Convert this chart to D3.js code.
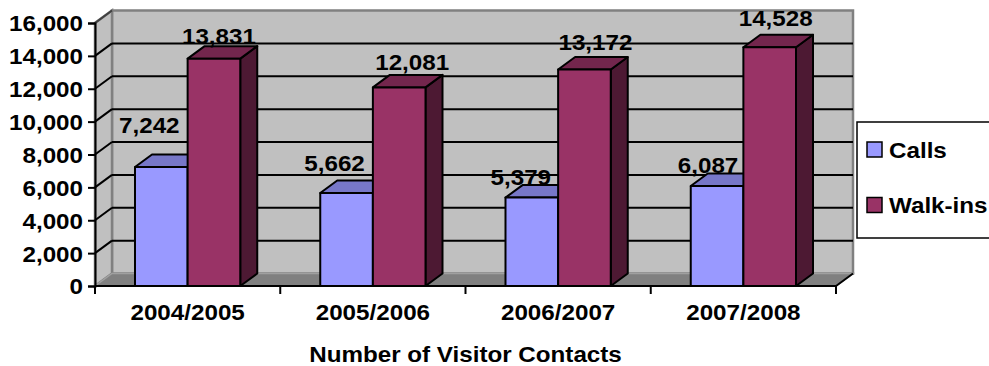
<!DOCTYPE html>
<html>
<head>
<meta charset="utf-8">
<script src="https://cdn.jsdelivr.net/npm/d3@7"></script>
<style>
  html, body { margin: 0; padding: 0; background: #fff; }
  svg text { font-family: "Liberation Sans", Arial, sans-serif; font-weight: bold; font-size: 22px; fill: #000; }
</style>
</head>
<body>
<svg id="chart" width="989" height="366"></svg>
<script>
// Visitor contacts per fiscal year
const categories = ["2004/2005", "2005/2006", "2006/2007", "2007/2008"];
const seriesNames = ["Calls", "Walk-ins"];
const calls = [7242, 5662, 5379, 6087];
const walkIns = [13831, 12081, 13172, 14528];
const yTicks = [0, 2000, 4000, 6000, 8000, 10000, 12000, 14000, 16000];
const axisTitle = "Number of Visitor Contacts";

const seriesValues = [calls, walkIns];
const colors = {
  "Calls":    { front: "#9999FF", top: "#7777C8", side: "#5C5C99" },
  "Walk-ins": { front: "#993366", top: "#73264D", side: "#4D1933" }
};

// oblique projection of the depth axis
const DX = 17, DY = -12.5;
const SX = 1.1; // horizontal stretch of the lettering

// placement of each value label relative to the top-centre of its bar (px)
const labelNudge = {
  "Calls":    { dx: [-12, -12, -11, -9], dy: [-34, -22, -13, -13] },
  "Walk-ins": { dx: [5, 13, 11, 6],      dy: [-15, -17, -19, -21] }
};

const svg = d3.select("#chart");

const x = d3.scaleBand().domain(categories).range([95, 836]).paddingInner(0).paddingOuter(0);
const xs = d3.scaleBand().domain(seriesNames).range([0, x.bandwidth()]).paddingInner(0).paddingOuter(0.76);
const y = d3.scaleLinear().domain([0, 16000]).range([286, 23]);

const x0 = x.range()[0], x1 = x.range()[1];
const yB = y(0), yT = y(16000);
const pts = a => a.map(p => p.join(",")).join(" ");

// ---- walls and floor
const walls = svg.append("g");
walls.append("polygon") // back wall
  .attr("points", pts([[x0 + DX, yT + DY], [x1 + DX, yT + DY], [x1 + DX, yB + DY], [x0 + DX, yB + DY]]))
  .attr("fill", "#C0C0C0").attr("stroke", "#808080").attr("stroke-width", 2.5);
walls.append("polygon") // side wall
  .attr("points", pts([[x0, yB], [x0, yT], [x0 + DX, yT + DY], [x0 + DX, yB + DY]]))
  .attr("fill", "#C0C0C0").attr("stroke", "#808080").attr("stroke-width", 2.5);
walls.append("polygon") // floor
  .attr("points", pts([[x0, yB], [x1, yB], [x1 + DX, yB + DY], [x0 + DX, yB + DY]]))
  .attr("fill", "#808080").attr("stroke", "#A0A0A0").attr("stroke-width", 1.5);

// ---- gridlines on back and side walls
const grid = svg.append("g").attr("stroke", "#000").attr("stroke-width", 2).attr("fill", "none");
yTicks.filter(v => v > 0 && v < 16000).forEach(v => {
  grid.append("line").attr("x1", x0 + DX).attr("x2", x1 + DX).attr("y1", y(v) + DY).attr("y2", y(v) + DY);
  grid.append("line").attr("x1", x0).attr("x2", x0 + DX).attr("y1", y(v)).attr("y2", y(v) + DY);
});
grid.append("line").attr("x1", x0).attr("x2", x0 + DX).attr("y1", yT).attr("y2", yT + DY).attr("stroke", "#404040");

// ---- bars
const bars = svg.append("g").attr("stroke", "#000").attr("stroke-width", 2).attr("stroke-linejoin", "round");
categories.forEach((c, i) => {
  seriesNames.forEach((s, k) => {
    const v = seriesValues[k][i];
    const bx = x(c) + xs(s), bw = xs.bandwidth();
    const top = y(v), bot = y(0);
    const col = colors[s];
    bars.append("polygon") // right face
      .attr("points", pts([[bx + bw, bot], [bx + bw, top], [bx + bw + DX, top + DY], [bx + bw + DX, bot + DY]]))
      .attr("fill", col.side);
    bars.append("polygon") // top face
      .attr("points", pts([[bx, top], [bx + bw, top], [bx + bw + DX, top + DY], [bx + DX, top + DY]]))
      .attr("fill", col.top);
    bars.append("rect") // front face
      .attr("x", bx).attr("y", top).attr("width", bw).attr("height", bot - top)
      .attr("fill", col.front);
  });
});

// ---- axes
const yAxis = svg.append("g").attr("transform", `translate(${x0},0)`)
  .call(d3.axisLeft(y).tickValues(yTicks).tickFormat(d3.format(",")).tickSize(7).tickPadding(5));
yAxis.select(".domain").attr("stroke", "#000").attr("stroke-width", 2);
yAxis.selectAll(".tick line").attr("stroke", "#000").attr("stroke-width", 2);
yAxis.selectAll(".tick text").attr("font-size", null).attr("font-family", null)
  .attr("x", -12 / SX).attr("dy", "0.36em").attr("transform", `scale(${SX},1)`);

// floor front edge with category separators
const xAxis = svg.append("g").attr("transform", `translate(0,${yB})`);
xAxis.append("line").attr("x1", x0).attr("x2", x1).attr("stroke", "#000").attr("stroke-width", 2);
xAxis.append("line").attr("x1", x1).attr("y1", 0).attr("x2", x1 + DX).attr("y2", DY).attr("stroke", "#000").attr("stroke-width", 2);
xAxis.selectAll("line.sep").data(categories.map(c => x(c)).concat([x1])).join("line")
  .attr("class", "sep").attr("x1", d => d).attr("x2", d => d).attr("y1", 0).attr("y2", 8)
  .attr("stroke", "#000").attr("stroke-width", 2);
xAxis.selectAll("text.cat").data(categories).join("text")
  .attr("class", "cat").attr("text-anchor", "middle")
  .attr("transform", d => `translate(${x(d) + x.bandwidth() / 2},34) scale(${SX},1)`)
  .text(d => d);

svg.append("text").attr("text-anchor", "middle")
  .attr("transform", `translate(${(x0 + x1) / 2},362) scale(${SX},1)`)
  .text(axisTitle);

// ---- value labels
const labels = svg.append("g");
categories.forEach((c, i) => {
  seriesNames.forEach((s, k) => {
    const v = seriesValues[k][i];
    const cx = x(c) + xs(s) + xs.bandwidth() / 2 + labelNudge[s].dx[i];
    labels.append("text").attr("text-anchor", "middle")
      .attr("transform", `translate(${cx},${y(v) + labelNudge[s].dy[i]}) scale(${SX},1)`)
      .text(d3.format(",")(v));
  });
});

// ---- legend
const legend = svg.append("g");
legend.append("rect").attr("x", 857).attr("y", 122).attr("width", 150).attr("height", 116)
  .attr("fill", "#fff").attr("stroke", "#000").attr("stroke-width", 1.5);
seriesNames.forEach((s, k) => {
  const gy = 142 + k * 55.5;
  legend.append("rect").attr("x", 867).attr("y", gy).attr("width", 15).attr("height", 15)
    .attr("fill", colors[s].front).attr("stroke", "#000").attr("stroke-width", 1.5);
  legend.append("text").attr("transform", `translate(889,${gy + 15.5}) scale(${SX},1)`).text(s);
});
</script>
</body>
</html>
